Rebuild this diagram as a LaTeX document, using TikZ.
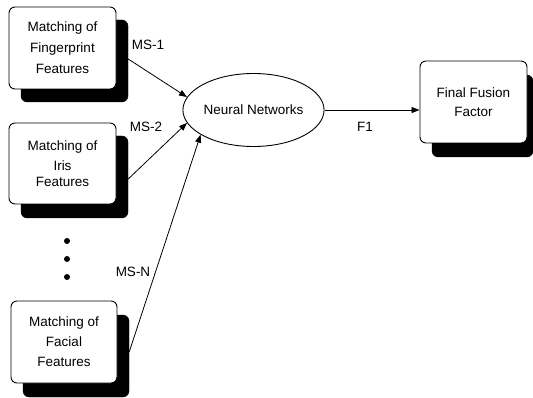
\documentclass[tikz,border=0pt]{standalone}
\usepackage{fontspec}
\setmainfont{Liberation Sans}
\usetikzlibrary{arrows.meta,shapes.geometric}
\tikzset{
  txt/.style={font=\fontsize{13.5}{21}\selectfont, align=center, inner sep=0pt},
  shadowbox/.style={rectangle, rounded corners=6pt, fill=black, draw=black, inner sep=0pt},
  procbox/.style={rectangle, rounded corners=6pt, fill=white, draw=black, line width=0.9pt, inner sep=0pt,
    font=\fontsize{13.5}{21}\selectfont, align=center},
  conn/.style={line width=0.8pt, -{Triangle[length=8pt,width=6pt]}},
  lbl/.style={font=\fontsize{13.5}{16}\selectfont, inner sep=0pt}
}
\begin{document}
\begin{tikzpicture}[x=1pt,y=-1pt]
\useasboundingbox (0,0) rectangle (533,398);
% shadows
\node[shadowbox, minimum width=107pt, minimum height=82pt] (s1) at (74.5,61) {};
\node[shadowbox, minimum width=107pt, minimum height=82pt] (s2) at (74.5,177) {};
\node[shadowbox, minimum width=106pt, minimum height=82pt] (s3) at (76,356) {};
\node[shadowbox, minimum width=101pt, minimum height=82pt] (s4) at (482.5,116) {};
% boxes
\node[procbox, minimum width=107pt, minimum height=82pt] (b1) at (62.5,48)
  {Matching of\\Fingerprint\\Features};
\node[procbox, minimum width=107pt, minimum height=81pt] (b2) at (62.5,163.5)
  {Matching of\\[-1pt]Iris\hspace*{25pt}\\[-5pt]Features};
\node[procbox, minimum width=106pt, minimum height=82pt] (b3) at (64,342)
  {Matching of\\[-1pt]Facial\\[-1pt]Features};
\node[procbox, minimum width=107pt, minimum height=82pt, font=\fontsize{13.5}{19}\selectfont] (fb) at (473.5,102)
  {Final Fusion\\Factor};
% ellipse
\node[ellipse, draw=black, line width=0.9pt, minimum width=131pt, minimum height=73pt, inner sep=0pt,
  font=\fontsize{13.5}{16}\selectfont] (nn) at (253.5,110) {Neural Networks};
% dots
\fill (67,241) circle (3pt);
\fill (67,259) circle (3pt);
\fill (67,277) circle (3pt);
% connectors
\draw[conn] ([yshift=2pt]s1.east) -- (nn.169);
\draw[conn] ([yshift=-2pt]s2.east) -- (nn.191);
\draw[conn] ([yshift=4pt]s3.east) -- (nn.205);
\draw[conn] (nn.east) -- (fb.west |- nn.east);
% labels
\node[lbl] (l1) at (148,45) {MS-1};
\node[lbl] (l2) at (146,127) {MS-2};
\node[lbl] (l3) at (133,272) {MS-N};
\node[lbl] (l4) at (365,127) {F1};
\end{tikzpicture}
\end{document}
